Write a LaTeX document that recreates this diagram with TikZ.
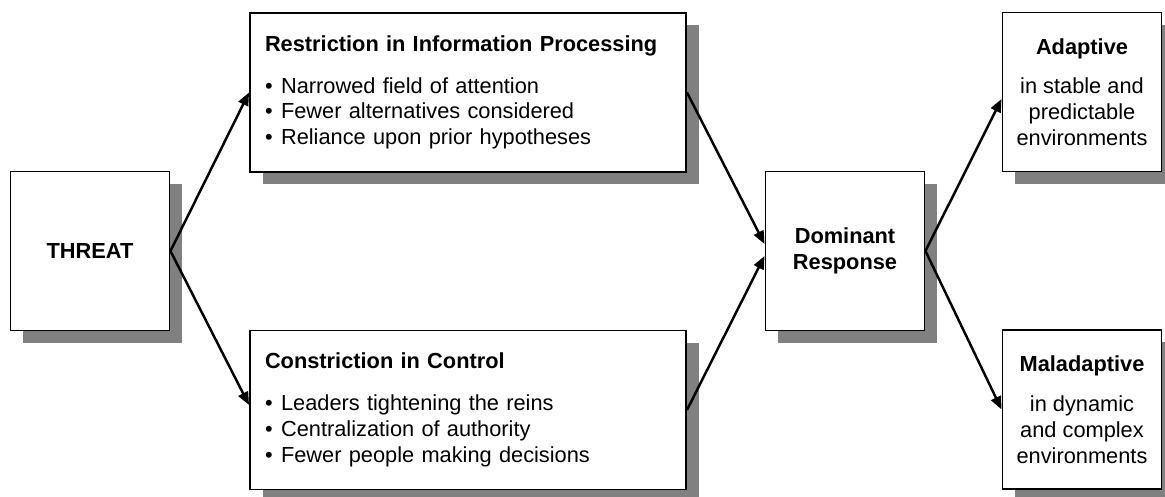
\documentclass[tikz,border=0pt]{standalone}
\usepackage{fontspec}
\setmainfont{Liberation Sans}
\usetikzlibrary{shadows,arrows.meta}

\newcommand{\bul}{\textbullet\hspace{4.8pt}}

\tikzset{
  box/.style={draw, line width=1.1pt, fill=white, inner sep=0pt,
    font=\fontsize{12.4}{14.7}\selectfont,
    drop shadow={shadow xshift=0.25cm, shadow yshift=-0.25cm, fill=black!50, opacity=1}},
  smallbox/.style={box, align=center, minimum width=3.18cm, minimum height=3.18cm},
  listbox/.style={box, align=left, text width=8.12cm, inner xsep=0.3cm, minimum height=3.18cm},
  arr/.style={line width=1.4pt, -{Triangle[length=0.26cm,width=0.21cm]}},
}

\begin{document}
\begin{tikzpicture}
    \useasboundingbox (0,0) rectangle (23.3,-9.94);
    \node[smallbox] (threat) at (1.8,-5.02) {\textbf{THREAT}};
    \node[listbox] (restr) at (9.36,-1.85) {\textbf{Restriction in Information Processing}\\[9pt]
      \bul Narrowed field of attention\\
      \bul Fewer alternatives considered\\
      \bul Reliance upon prior hypotheses};
    \node[listbox] (constr) at (9.36,-8.2) {\textbf{Constriction in Control}\\[9pt]
      \bul Leaders tightening the reins\\
      \bul Centralization of authority\\
      \bul Fewer people making decisions};
    \node[smallbox] (dom) at (16.9,-5.02) {\textbf{Dominant}\\\textbf{Response}};
    \node[smallbox] (adapt) at (21.64,-1.84) {\textbf{Adaptive}\\[8pt]
      in stable and\\ predictable\\ environments};
    \node[smallbox] (malad) at (21.64,-8.19) {\textbf{Maladaptive}\\[8pt]
      in dynamic\\ and complex\\ environments};
    \draw[arr] (threat.east) -- (restr.west);
    \draw[arr] (threat.east) -- ([yshift=0.1cm]constr.west);
    \draw[arr] (restr.east) -- ([yshift=0.14cm]dom.west);
    \draw[arr] (constr.east) -- ([yshift=-0.1cm]dom.west);
    \draw[arr] (dom.east) -- ([yshift=-0.14cm]adapt.west);
    \draw[arr] (dom.east) -- (malad.west);
\end{tikzpicture}
\end{document}
